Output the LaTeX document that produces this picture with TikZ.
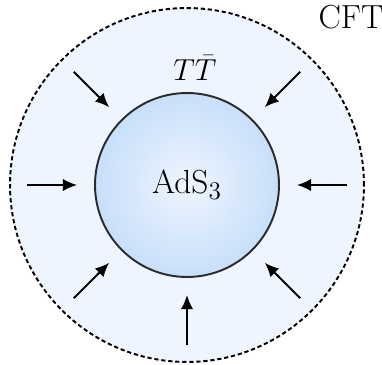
\documentclass[tikz,border=0pt]{standalone}
\usepackage{amsmath,amssymb}
\usepackage{tikz}
\usetikzlibrary{arrows.meta,positioning}
\definecolor{ink}{HTML}{2B2B2B}
\definecolor{bulkedge}{HTML}{C8DFFA}
\definecolor{bulkmid}{HTML}{EEF5FE}
\definecolor{bdry}{HTML}{EEF5FE}

\begin{document}
\begin{tikzpicture}[
  x=0.02cm,y=0.02cm,
  font=\fontsize{19}{23}\selectfont,
  bdrydisk/.style={circle,draw=black,line width=1.1pt,dash pattern=on 2.4pt off 1.6pt,fill=bdry,minimum size=7.08cm,inner sep=0pt},
  bulkdisk/.style={circle,draw=ink,line width=1.1pt,inner color=bulkmid,outer color=bulkedge,minimum size=3.68cm,inner sep=0pt},
  flow/.style={-{Latex[length=8pt,width=7pt]},line width=1.1pt,black},
  >=Latex]
\useasboundingbox (-187,-180) rectangle (195,185);
\node[bdrydisk] (cft) at (0,0) {};
\node[bulkdisk] (ads) at (0,0) {AdS$_3$};
\node (ttbar) at (8,117) {$T\bar{T}$};
\node (cftlabel) at (164,168) {CFT};
\foreach \a in {0,45,135,180,225,270,315} {
  \coordinate (s\a) at (\a:160);
  \coordinate (e\a) at (\a:110);
  \draw[flow] (s\a) -- (e\a);
}
\end{tikzpicture}
\end{document}
